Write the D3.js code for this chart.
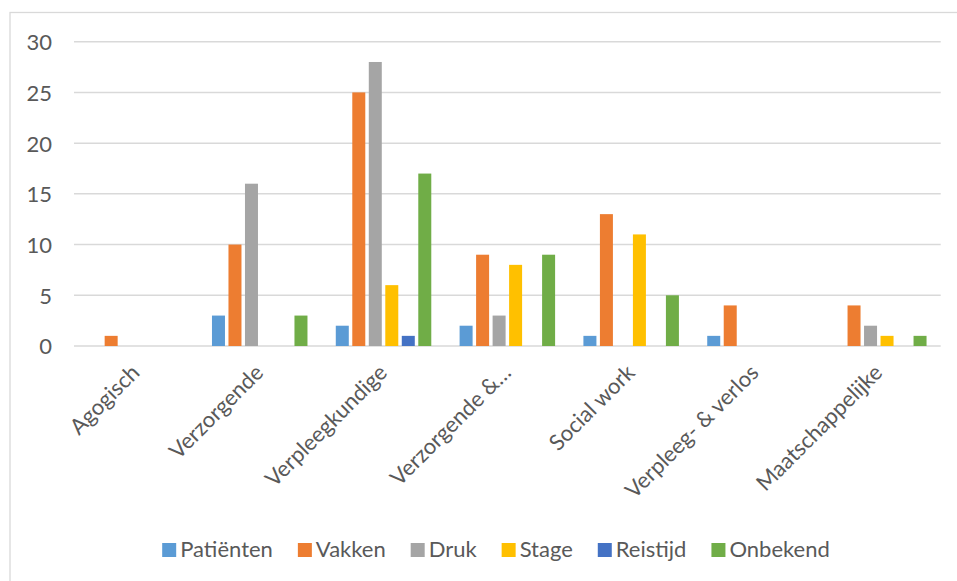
<!DOCTYPE html>
<html>
<head>
<meta charset="utf-8">
<script src="https://cdn.jsdelivr.net/npm/d3@7"></script>
<style>
  html, body { margin: 0; padding: 0; background: #fff; }
  svg { display: block; }
  text { font-family: Lato, "Open Sans", sans-serif; fill: #595959; }
</style>
</head>
<body>
<svg id="chart" width="957" height="581"></svg>
<script>
const categories = ["Agogisch", "Verzorgende", "Verpleegkundige", "Verzorgende &…", "Social work", "Verpleeg- & verlos", "Maatschappelijke"];
const seriesNames = ["Patiënten", "Vakken", "Druk", "Stage", "Reistijd", "Onbekend"];
const seriesColors = ["#5B9BD5", "#ED7D31", "#A5A5A5", "#FFC000", "#4472C4", "#70AD47"];
const patienten = [0, 3, 2, 2, 1, 1, 0];
const vakken    = [1, 10, 25, 9, 13, 4, 4];
const druk      = [0, 16, 28, 3, 0, 0, 2];
const stage     = [0, 0, 6, 8, 11, 0, 1];
const reistijd  = [0, 0, 1, 0, 0, 0, 0];
const onbekend  = [0, 3, 17, 9, 5, 0, 1];
const yTicks = [0, 5, 10, 15, 20, 25, 30];

const seriesValues = [patienten, vakken, druk, stage, reistijd, onbekend];

const svg = d3.select("#chart");
const fontSize = 22;

// chart frame
svg.append("rect")
  .attr("x", 10).attr("y", 12.5)
  .attr("width", 970).attr("height", 620)
  .attr("fill", "none").attr("stroke", "#D9D9D9").attr("stroke-width", 1.3);

const plotLeft = 74, plotRight = 940.7, plotTop = 41.7, plotBottom = 346;

const y = d3.scaleLinear().domain([0, 30]).range([plotBottom, plotTop]);
const x0 = d3.scaleBand().domain(categories).range([plotLeft, plotRight]).padding(0);
const bw = x0.bandwidth();
const groupW = 95.5;
const x1 = d3.scaleBand().domain(seriesNames)
  .range([bw / 2 - groupW / 2, bw / 2 + groupW / 2])
  .paddingInner(0.212).paddingOuter(0);

// gridlines
svg.append("g").selectAll("line").data(yTicks).join("line")
  .attr("x1", plotLeft).attr("x2", plotRight)
  .attr("y1", d => y(d)).attr("y2", d => y(d))
  .attr("stroke", "#D9D9D9").attr("stroke-width", 1.5);

// y axis labels via d3 axis
const yAxis = d3.axisLeft(y).tickValues(yTicks).tickSize(0).tickPadding(0);
const gy = svg.append("g").attr("transform", "translate(52,0)").call(yAxis);
gy.select(".domain").remove();
gy.selectAll("text")
  .attr("font-size", fontSize)
  .attr("font-family", "Lato, 'Open Sans', sans-serif")
  .attr("fill", "#595959")
  .attr("dy", "0.36em");

// bars
const groups = svg.append("g").selectAll("g").data(categories).join("g")
  .attr("transform", c => `translate(${x0(c)},0)`);
groups.selectAll("rect")
  .data((c, ci) => seriesNames.map((s, si) => ({ s, si, v: seriesValues[si][ci] })).filter(d => d.v > 0))
  .join("rect")
  .attr("x", d => x1(d.s))
  .attr("width", x1.bandwidth())
  .attr("y", d => y(d.v))
  .attr("height", d => y(0) - y(d.v))
  .attr("fill", d => seriesColors[d.si]);

// x axis labels rotated
const xAxis = d3.axisBottom(x0).tickSize(0).tickPadding(0);
const gx = svg.append("g").attr("transform", `translate(0,${plotBottom})`).call(xAxis);
gx.select(".domain").remove();
gx.selectAll(".tick text")
  .attr("font-size", fontSize)
  .attr("font-family", "Lato, 'Open Sans', sans-serif")
  .attr("fill", "#595959")
  .attr("text-anchor", "end")
  .attr("dy", 0)
  .attr("y", 0)
  .attr("transform", "translate(5,28) rotate(-45)");

// legend
const legend = svg.append("g");
const items = legend.selectAll("g").data(seriesNames).join("g");
items.append("rect")
  .attr("width", 14).attr("height", 14)
  .attr("y", 543)
  .attr("fill", (d, i) => seriesColors[i]);
items.append("text")
  .attr("x", 18).attr("y", 557)
  .attr("font-size", fontSize)
  .text(d => d);
let cx = 0;
const positions = [];
items.each(function () {
  const w = d3.select(this).select("text").node().getComputedTextLength();
  positions.push(cx);
  cx += 18 + w + 25;
});
const total = cx - 25;
const startX = 496 - total / 2;
items.attr("transform", (d, i) => `translate(${startX + positions[i]},0)`);
</script>
</body>
</html>
